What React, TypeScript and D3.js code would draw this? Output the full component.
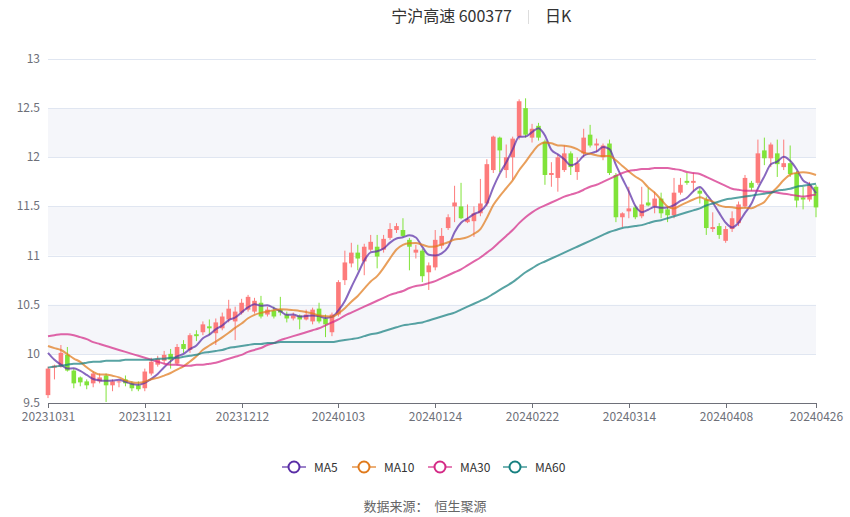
import React, { useEffect, useRef } from 'react';
import * as d3 from 'd3';

// trading days shown on the chart
const dates = [
  '20231031',
  '20231101', '20231102', '20231103', '20231106', '20231107', '20231108', '20231109', '20231110',
  '20231113', '20231114', '20231115', '20231116', '20231117', '20231120', '20231121', '20231122',
  '20231123', '20231124', '20231127', '20231128', '20231129', '20231130',
  '20231201', '20231204', '20231205', '20231206', '20231207', '20231208', '20231211', '20231212',
  '20231213', '20231214', '20231215', '20231218', '20231219', '20231220', '20231221', '20231222',
  '20231225', '20231226', '20231227', '20231228', '20231229',
  '20240102', '20240103', '20240104', '20240105', '20240108', '20240109', '20240110', '20240111',
  '20240112', '20240115', '20240116', '20240117', '20240118', '20240119', '20240122', '20240123',
  '20240124', '20240125', '20240126', '20240129', '20240130', '20240131',
  '20240201', '20240202', '20240205', '20240206', '20240207', '20240208', '20240219', '20240220',
  '20240221', '20240222', '20240223', '20240226', '20240227', '20240228', '20240229',
  '20240301', '20240304', '20240305', '20240306', '20240307', '20240308', '20240311', '20240312',
  '20240313', '20240314', '20240315', '20240318', '20240319', '20240320', '20240321', '20240322',
  '20240325', '20240326', '20240327', '20240328', '20240329',
  '20240401', '20240402', '20240403', '20240408', '20240409', '20240410', '20240411', '20240412',
  '20240415', '20240416', '20240417', '20240418', '20240419', '20240422', '20240423', '20240424',
  '20240425', '20240426',
];

// [open, close, low, high]
const candles: [number, number, number, number][] = [
  [9.58, 9.85, 9.55, 9.87], [9.86, 9.88, 9.74, 9.89], [9.87, 10.01, 9.86, 10.09], [9.99, 9.83, 9.82, 10.07],
  [9.83, 9.70, 9.65, 9.85], [9.76, 9.71, 9.67, 9.77], [9.72, 9.68, 9.64, 9.74], [9.70, 9.80, 9.66, 9.82],
  [9.72, 9.76, 9.70, 9.80], [9.78, 9.68, 9.51, 9.80], [9.68, 9.72, 9.62, 9.74], [9.71, 9.72, 9.66, 9.73],
  [9.74, 9.70, 9.67, 9.78], [9.70, 9.65, 9.62, 9.72], [9.68, 9.64, 9.62, 9.72], [9.65, 9.82, 9.62, 9.85],
  [9.80, 9.92, 9.78, 9.96], [9.89, 9.95, 9.87, 9.98], [9.93, 9.99, 9.90, 10.03], [10.00, 9.94, 9.85, 10.05],
  [9.90, 10.07, 9.88, 10.10], [10.10, 10.05, 10.01, 10.14], [10.04, 10.19, 10.01, 10.21], [10.20, 10.18, 10.13, 10.24],
  [10.22, 10.30, 10.19, 10.33], [10.28, 10.26, 10.19, 10.35], [10.21, 10.32, 10.09, 10.36], [10.26, 10.38, 10.24, 10.42],
  [10.35, 10.46, 10.32, 10.55], [10.33, 10.43, 10.14, 10.48], [10.42, 10.52, 10.40, 10.56], [10.45, 10.58, 10.43, 10.60],
  [10.43, 10.54, 10.41, 10.57], [10.52, 10.38, 10.36, 10.59], [10.40, 10.45, 10.38, 10.48], [10.44, 10.38, 10.36, 10.48],
  [10.45, 10.42, 10.39, 10.58], [10.40, 10.36, 10.32, 10.43], [10.36, 10.39, 10.34, 10.42], [10.39, 10.35, 10.25, 10.40],
  [10.35, 10.40, 10.34, 10.45], [10.33, 10.45, 10.30, 10.47], [10.46, 10.33, 10.31, 10.52], [10.36, 10.30, 10.17, 10.40],
  [10.22, 10.40, 10.18, 10.42], [10.40, 10.73, 10.38, 10.75], [10.75, 10.93, 10.70, 11.05], [10.92, 11.03, 10.88, 11.13],
  [11.03, 10.97, 10.85, 11.11], [10.94, 11.09, 10.80, 11.12], [11.06, 11.14, 11.04, 11.21], [11.09, 10.99, 10.87, 11.21],
  [11.06, 11.17, 11.03, 11.21], [11.18, 11.27, 11.16, 11.33], [11.26, 11.30, 11.23, 11.33], [11.26, 11.20, 11.19, 11.38],
  [11.16, 11.09, 10.85, 11.18], [11.03, 11.06, 10.97, 11.11], [11.05, 10.79, 10.73, 11.07], [10.83, 10.90, 10.65, 10.93],
  [10.88, 11.16, 10.85, 11.26], [11.10, 11.20, 11.07, 11.28], [11.28, 11.39, 11.26, 11.42], [11.50, 11.54, 11.34, 11.71],
  [11.50, 11.38, 11.37, 11.74], [11.34, 11.37, 11.33, 11.52], [11.35, 11.43, 11.19, 11.50], [11.43, 11.53, 11.40, 11.78],
  [11.53, 11.93, 11.50, 11.98], [11.87, 12.21, 11.84, 12.22], [12.20, 12.07, 11.85, 12.21], [11.87, 12.00, 11.79, 12.13],
  [12.00, 12.19, 11.77, 12.21], [12.21, 12.57, 12.18, 12.59], [12.50, 12.23, 12.20, 12.60], [12.20, 12.29, 12.15, 12.34],
  [12.32, 12.20, 12.17, 12.35], [12.16, 11.82, 11.72, 12.18], [11.82, 11.84, 11.70, 11.95], [11.79, 12.00, 11.65, 12.03],
  [11.87, 12.04, 11.85, 12.12], [12.04, 11.90, 11.82, 12.06], [11.85, 11.94, 11.77, 12.00], [12.04, 12.20, 12.00, 12.29],
  [12.23, 12.12, 12.10, 12.33], [12.12, 12.14, 12.05, 12.19], [12.00, 12.12, 11.97, 12.14], [12.14, 11.84, 11.82, 12.18],
  [11.82, 11.39, 11.34, 11.84], [11.39, 11.43, 11.29, 11.44], [11.45, 11.48, 11.38, 11.70], [11.49, 11.39, 11.37, 11.51],
  [11.40, 11.52, 11.38, 11.70], [11.54, 11.51, 11.50, 11.69], [11.50, 11.58, 11.43, 11.65], [11.58, 11.43, 11.38, 11.64],
  [11.47, 11.41, 11.34, 11.50], [11.41, 11.64, 11.38, 11.79], [11.64, 11.72, 11.62, 11.79], [11.76, 11.74, 11.72, 11.84],
  [11.74, 11.76, 11.65, 11.84], [11.66, 11.63, 11.53, 11.69], [11.57, 11.28, 11.21, 11.60], [11.27, 11.29, 11.24, 11.44],
  [11.30, 11.21, 11.17, 11.33], [11.15, 11.27, 11.13, 11.30], [11.27, 11.38, 11.24, 11.45], [11.33, 11.52, 11.30, 11.55],
  [11.50, 11.79, 11.48, 11.82], [11.74, 11.69, 11.66, 11.76], [11.74, 12.04, 11.72, 12.18], [12.07, 11.99, 11.92, 12.20],
  [11.99, 12.13, 11.90, 12.15], [12.04, 11.93, 11.80, 12.18], [11.90, 11.94, 11.87, 12.18], [11.94, 11.83, 11.80, 12.12],
  [11.84, 11.56, 11.49, 11.86], [11.59, 11.57, 11.47, 11.70], [11.57, 11.72, 11.55, 11.75], [11.70, 11.49, 11.39, 11.72],
];

// closes of the nine sessions before 20231031 (needed for MA5 / MA10)
const priorCloses = [10.10, 10.20, 10.25, 10.15, 10.05, 10.23, 10.26, 10.03, 9.68];

// longer averages
const ma30 = [
  10.18, 10.19, 10.20, 10.20, 10.19, 10.17, 10.15, 10.12, 10.10, 10.08, 10.06, 10.04, 10.02, 10.00, 9.98, 9.96,
  9.94, 9.92, 9.90, 9.89, 9.89, 9.88, 9.88, 9.89, 9.89, 9.90, 9.91, 9.93, 9.95, 9.97, 9.99, 10.02,
  10.04, 10.06, 10.09, 10.11, 10.14, 10.16, 10.18, 10.20, 10.22, 10.24, 10.26, 10.29, 10.32, 10.35, 10.39, 10.42,
  10.45, 10.48, 10.51, 10.54, 10.57, 10.60, 10.62, 10.64, 10.67, 10.69, 10.70, 10.72, 10.74, 10.77, 10.80, 10.83,
  10.86, 10.90, 10.94, 10.98, 11.03, 11.08, 11.14, 11.20, 11.26, 11.33, 11.39, 11.44, 11.48, 11.51, 11.54, 11.57,
  11.60, 11.62, 11.64, 11.67, 11.70, 11.72, 11.75, 11.78, 11.81, 11.84, 11.86, 11.87, 11.88, 11.88, 11.89, 11.89,
  11.89, 11.88, 11.87, 11.85, 11.84, 11.83, 11.80, 11.77, 11.74, 11.71, 11.68, 11.67, 11.66, 11.66, 11.66, 11.65,
  11.65, 11.64, 11.63, 11.62, 11.61, 11.60, 11.61, 11.62,
];
const ma60 = [
  9.86, 9.87, 9.88, 9.89, 9.90, 9.90, 9.91, 9.92, 9.92, 9.93, 9.93, 9.93, 9.94, 9.94, 9.94, 9.94,
  9.94, 9.95, 9.95, 9.96, 9.96, 9.97, 9.98, 9.99, 10.01, 10.02, 10.03, 10.04, 10.06, 10.07, 10.08, 10.09,
  10.10, 10.10, 10.11, 10.11, 10.12, 10.12, 10.12, 10.12, 10.12, 10.12, 10.12, 10.12, 10.12, 10.13, 10.14, 10.15,
  10.16, 10.18, 10.20, 10.21, 10.23, 10.25, 10.27, 10.29, 10.30, 10.31, 10.32, 10.34, 10.36, 10.38, 10.40, 10.42,
  10.45, 10.48, 10.51, 10.54, 10.57, 10.61, 10.65, 10.69, 10.73, 10.78, 10.83, 10.87, 10.91, 10.94, 10.97, 11.00,
  11.03, 11.06, 11.09, 11.12, 11.15, 11.18, 11.21, 11.24, 11.26, 11.28, 11.29, 11.30, 11.31, 11.33, 11.35, 11.36,
  11.38, 11.40, 11.42, 11.44, 11.46, 11.48, 11.51, 11.53, 11.55, 11.57, 11.58, 11.59, 11.60, 11.61, 11.62, 11.63,
  11.64, 11.66, 11.67, 11.68, 11.70, 11.71, 11.72, 11.73,
];

const yTicks = [9.5, 10, 10.5, 11, 11.5, 12, 12.5, 13];
const xLabels = ['20231031', '20231121', '20231212', '20240103', '20240124', '20240222', '20240314', '20240408', '20240426'];

const UP = '#fd7b7b';
const DOWN = '#80e339';

const series = [
  { name: 'MA5', color: '#5a2ea6' },
  { name: 'MA10', color: '#e07a1c' },
  { name: 'MA30', color: '#d42a86' },
  { name: 'MA60', color: '#178080' },
];

const movingAverage = (n: number) => {
  const all = [...priorCloses, ...candles.map(c => c[1])];
  return candles.map((_, i) => d3.mean(all.slice(i + 9 - n + 1, i + 10)) as number);
};

const CandleChart: React.FC = () => {
  const ref = useRef<SVGSVGElement>(null);

  useEffect(() => {
    if (!ref.current) return;
    const svg = d3.select(ref.current);
    svg.selectAll('*').remove();

    const font = '"Noto Sans CJK SC", "Noto Sans", sans-serif';
    const left = 48, right = 816, top = 59, bottom = 403;

    const x = d3.scalePoint<string>().domain(dates).range([left, right]);
    const y = d3.scaleLinear().domain([9.5, 13]).range([bottom, top]);

    // title
    svg.append('text').attr('x', 512).attr('y', 22).attr('text-anchor', 'end')
      .attr('font-family', font).attr('font-size', 16).attr('fill', '#333')
      .text('宁沪高速 600377');
    svg.append('line').attr('x1', 528.5).attr('x2', 528.5).attr('y1', 10).attr('y2', 24)
      .attr('stroke', '#ddd').attr('stroke-width', 1);
    svg.append('text').attr('x', 545).attr('y', 22)
      .attr('font-family', font).attr('font-size', 16).attr('fill', '#333')
      .text('日K');

    // alternating bands
    for (let i = 0; i < yTicks.length - 1; i++) {
      if (i % 2 === 1) {
        svg.append('rect')
          .attr('x', left).attr('width', right - left)
          .attr('y', y(yTicks[i + 1])).attr('height', y(yTicks[i]) - y(yTicks[i + 1]))
          .attr('fill', '#f5f6fa');
      }
    }

    // horizontal grid + y labels
    svg.append('g').selectAll('line').data(yTicks.slice(1)).enter().append('line')
      .attr('x1', left).attr('x2', right)
      .attr('y1', d => Math.round(y(d)) + 0.5).attr('y2', d => Math.round(y(d)) + 0.5)
      .attr('stroke', '#e0e6f1');
    svg.append('g').selectAll('text').data(yTicks).enter().append('text')
      .attr('x', 40).attr('y', d => y(d) + 4).attr('text-anchor', 'end')
      .attr('font-family', font).attr('font-size', 12).attr('fill', '#6e7079')
      .text(d => String(d));

    // candles
    const bw = 4.6;
    const g = svg.append('g');
    candles.forEach((c, i) => {
      const [o, cl, lo, hi] = c;
      const cx = x(dates[i]) as number;
      const col = cl >= o ? UP : DOWN;
      g.append('line').attr('x1', cx).attr('x2', cx).attr('y1', y(hi)).attr('y2', y(lo))
        .attr('stroke', col).attr('stroke-width', 1);
      const yt = y(Math.max(o, cl));
      const h = Math.max(1, y(Math.min(o, cl)) - yt);
      g.append('rect').attr('x', cx - bw / 2).attr('y', yt).attr('width', bw).attr('height', h)
        .attr('fill', col);
    });

    // moving averages
    const maData = [movingAverage(5), movingAverage(10), ma30, ma60];
    const line = d3.line<number>()
      .x((_, i) => x(dates[i]) as number)
      .y(d => y(d))
      .curve(d3.curveMonotoneX);
    maData.forEach((vals, k) => {
      svg.append('path').datum(vals)
        .attr('fill', 'none').attr('stroke', series[k].color).attr('stroke-opacity', 0.72)
        .attr('stroke-width', 2).attr('d', line);
    });

    // x axis
    svg.append('line').attr('x1', left).attr('x2', right).attr('y1', bottom + 0.5).attr('y2', bottom + 0.5)
      .attr('stroke', '#6e7079');
    const xa = svg.append('g');
    xLabels.forEach(d => {
      const px = Math.round(x(d) as number) + 0.5;
      xa.append('line').attr('x1', px).attr('x2', px).attr('y1', bottom).attr('y2', bottom + 5)
        .attr('stroke', '#6e7079');
      xa.append('text').attr('x', px).attr('y', bottom + 18).attr('text-anchor', 'middle')
        .attr('font-family', font).attr('font-size', 12).attr('fill', '#6e7079')
        .text(d);
    });

    // legend
    const legendX = [294, 364, 440, 515];
    series.forEach((s, k) => {
      const cx = legendX[k];
      const lg = svg.append('g');
      lg.append('line').attr('x1', cx - 12).attr('x2', cx + 12).attr('y1', 467).attr('y2', 467)
        .attr('stroke', s.color).attr('stroke-opacity', 0.6).attr('stroke-width', 2);
      lg.append('circle').attr('cx', cx).attr('cy', 467).attr('r', 5.5)
        .attr('fill', '#fff').attr('stroke', s.color).attr('stroke-width', 2);
      lg.append('text').attr('x', cx + 20).attr('y', 471.5)
        .attr('font-family', font).attr('font-size', 12).attr('fill', '#333')
        .text(s.name);
    });

    // source
    svg.append('text').attr('x', 425).attr('y', 511).attr('text-anchor', 'middle')
      .attr('font-family', font).attr('font-size', 13).attr('fill', '#666')
      .attr('xml:space', 'preserve')
      .text('数据来源：  恒生聚源');
  }, []);

  return <svg ref={ref} width={850} height={517} style={{ display: 'block' }} />;
};

export default function App() {
  return (
    <div style={{ position: 'absolute', left: 0, top: 0, width: 850, height: 517, background: '#fff' }}>
      <CandleChart />
    </div>
  );
}
